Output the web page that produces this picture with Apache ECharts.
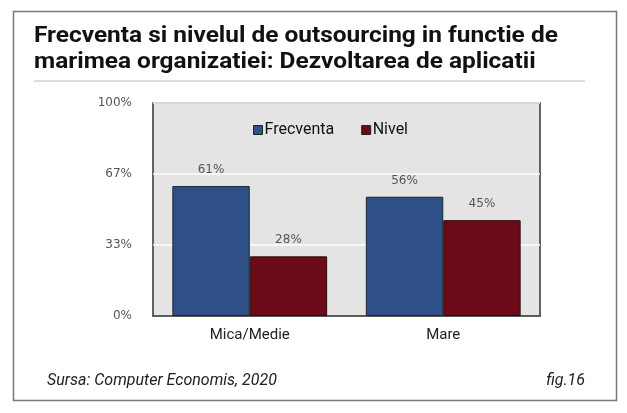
<!DOCTYPE html>
<html><head><meta charset="utf-8">
<script src="https://cdn.jsdelivr.net/npm/echarts@6/dist/echarts.min.js"></script>
<style>html,body{margin:0;padding:0;background:#fff}#c{width:627px;height:413px}</style>
</head><body><div id="c"></div>
<script>
const categories = ['Mica/Medie', 'Mare'];
const frecventa = [61, 56];
const nivel = [28, 45];
const seriesNames = ['Frecventa', 'Nivel'];
const titleLine1 = 'Frecventa si nivelul de outsourcing in functie de';
const titleLine2 = 'marimea organizatiei: Dezvoltarea de aplicatii';
const sourceText = 'Sursa: Computer Economis, 2020';
const figText = 'fig.16';

const titleFont = {fontFamily: 'Roboto', fontWeight: 'bold', fontSize: 22, fill: '#111', verticalAlign: 'top'};
const chart = echarts.init(document.getElementById('c'), null, {renderer: 'canvas'});
chart.setOption({
  backgroundColor: '#fff',
  animation: false,
  title: [
    {text: sourceText, left: 42, top: 368,
     textStyle: {fontFamily: 'Roboto', fontStyle: 'italic', fontWeight: 'normal', fontSize: 16, color: '#222'}},
    {text: figText, right: 37, top: 368,
     textStyle: {fontFamily: 'Roboto', fontStyle: 'italic', fontWeight: 'normal', fontSize: 16, color: '#222'}}
  ],
  graphic: [
    {type: 'rect', shape: {x: 13.5, y: 11.5, width: 603, height: 389}, style: {fill: 'none', stroke: '#777', lineWidth: 1.5}, z: -1},
    {type: 'line', shape: {x1: 34, y1: 81, x2: 585, y2: 81}, style: {stroke: '#ddd', lineWidth: 2}},
    {type: 'text', x: 34, y: 25, scaleX: 1.11, style: Object.assign({text: titleLine1}, titleFont)},
    {type: 'text', x: 34, y: 51, scaleX: 1.11, style: Object.assign({text: titleLine2}, titleFont)}
  ],
  legend: {
    data: seriesNames, top: 117, left: 248, itemGap: 27,
    itemWidth: 9, itemHeight: 9, icon: 'rect',
    itemStyle: {borderColor: '#222', borderWidth: 1},
    textStyle: {fontFamily: 'Roboto', fontSize: 16, color: '#111', padding: [0, 0, 0, -3]}
  },
  grid: {left: 153, right: 87, top: 103, bottom: 97, show: true, backgroundColor: '#e4e4e4', borderColor: '#333', borderWidth: 1.5},
  xAxis: {
    type: 'category', data: categories,
    axisLine: {show: true, lineStyle: {color: '#333', width: 1.5}},
    axisTick: {show: false},
    axisLabel: {fontFamily: 'Roboto', fontSize: 15, color: '#222', margin: 12}
  },
  yAxis: {
    type: 'value', min: 0, max: 100, interval: 100 / 3,
    axisLine: {show: false}, axisTick: {show: false},
    splitLine: {lineStyle: {color: '#fff', width: 1.5}},
    axisLabel: {fontFamily: 'Century Gothic, DejaVu Sans', fontSize: 12, color: '#555', margin: 21,
      formatter: v => Math.round(v) + '%'}
  },
  series: [
    {name: seriesNames[0], type: 'bar', data: frecventa, barGap: '0%', barCategoryGap: '20%',
     itemStyle: {color: '#2e5087', borderColor: '#1a2533', borderWidth: 1},
     label: {show: true, position: 'top', distance: 10, formatter: '{c}%', fontFamily: 'DejaVu Sans', fontSize: 12, color: '#555'}},
    {name: seriesNames[1], type: 'bar', data: nivel,
     itemStyle: {color: '#6d0a17', borderColor: '#2a0a0a', borderWidth: 1},
     label: {show: true, position: 'top', distance: 10, formatter: '{c}%', fontFamily: 'DejaVu Sans', fontSize: 12, color: '#555'}}
  ]
});
</script></body></html>
